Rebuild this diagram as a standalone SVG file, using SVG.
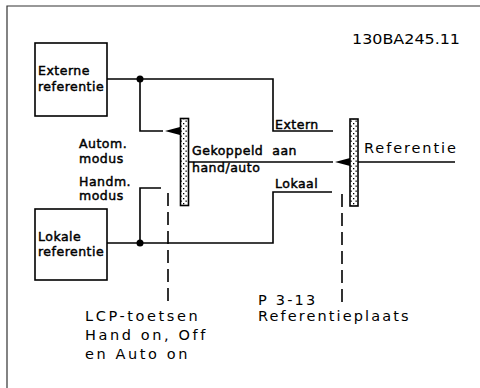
<svg xmlns="http://www.w3.org/2000/svg" width="480" height="388" viewBox="0 0 480 388">
<defs>
<pattern id="dots" width="5" height="5" patternUnits="userSpaceOnUse">
<rect width="5" height="5" fill="#fff"/>
<rect x="0.5" y="0.5" width="1.3" height="1.3" fill="#000"/>
<rect x="3" y="3" width="1.3" height="1.3" fill="#000"/>
</pattern>
</defs>
<style>
.ln{fill:none;stroke:#000;stroke-width:1.6}
.box{fill:#fff;stroke:#000;stroke-width:1.6}
.bar{fill:url(#dots);stroke:#000;stroke-width:1.6}
.dash{fill:none;stroke:#000;stroke-width:1.6;stroke-dasharray:13 6}
.s{font-family:"DejaVu Sans",sans-serif;font-size:12.5px;letter-spacing:0.5px;fill:#000;stroke:#000;stroke-width:0.45}
.l{font-family:"DejaVu Sans",sans-serif;font-size:14.5px;fill:#000}
</style>
<path d="M7,388 V6 H480" fill="none" stroke="#333" stroke-width="1.2"/>
<text class="l" x="352" y="44" textLength="108" lengthAdjust="spacingAndGlyphs">130BA245.11</text>

<g id="connectors">
<path class="ln" d="M107,79 H273 V131 H333"/>
<path class="ln" d="M140,79 V131 H163"/>
<path class="ln" d="M189,162 H333"/>
<path class="ln" d="M358,162 H455"/>
<path class="ln" d="M107,243 H273 V192 H332"/>
<path class="ln" d="M140,243 V188 H161"/>
<circle cx="140" cy="79" r="3.5" fill="#000"/>
<circle cx="140" cy="243" r="3.5" fill="#000"/>
<path d="M165,131 L180,127 L180,135 Z" fill="#000"/>
<path d="M335,162 L350,158 L350,166 Z" fill="#000"/>
<path class="dash" d="M168,193 V302"/>
<path class="dash" d="M342,194 V302"/>
</g>

<g id="externe">
<rect class="box" x="35" y="43" width="72" height="73"/>
<text class="s" x="38" y="75">Externe</text>
<text class="s" x="38" y="91">referentie</text>
</g>
<g id="lokale">
<rect class="box" x="35" y="209" width="72" height="71"/>
<text class="s" x="38" y="241">Lokale</text>
<text class="s" x="38" y="256">referentie</text>
</g>
<g id="switch1">
<rect class="bar" x="180.5" y="118.5" width="8" height="87"/>
</g>
<g id="switch2">
<rect class="bar" x="350" y="119" width="8" height="87"/>
</g>
<g id="labels">
<text class="s" x="79" y="148">Autom.</text>
<text class="s" x="79" y="163">modus</text>
<text class="s" x="79" y="186">Handm.</text>
<text class="s" x="79" y="200">modus</text>
<text class="s" x="192" y="155" xml:space="preserve">Gekoppeld  aan</text>
<text class="s" x="192" y="172">hand/auto</text>
<text class="s" x="275" y="129">Extern</text>
<text class="s" x="275" y="188">Lokaal</text>
<text class="l" x="364" y="153" letter-spacing="1.9">Referentie</text>
<text class="l" x="85" y="321" letter-spacing="2.6">LCP-toetsen</text>
<text class="l" x="85" y="340" letter-spacing="2.6">Hand on, Off</text>
<text class="l" x="85" y="359" letter-spacing="2.6">en Auto on</text>
<text class="l" x="258" y="305" letter-spacing="2.2">P 3-13</text>
<text class="l" x="258" y="321" letter-spacing="2.1">Referentieplaats</text>
</g>
</svg>
